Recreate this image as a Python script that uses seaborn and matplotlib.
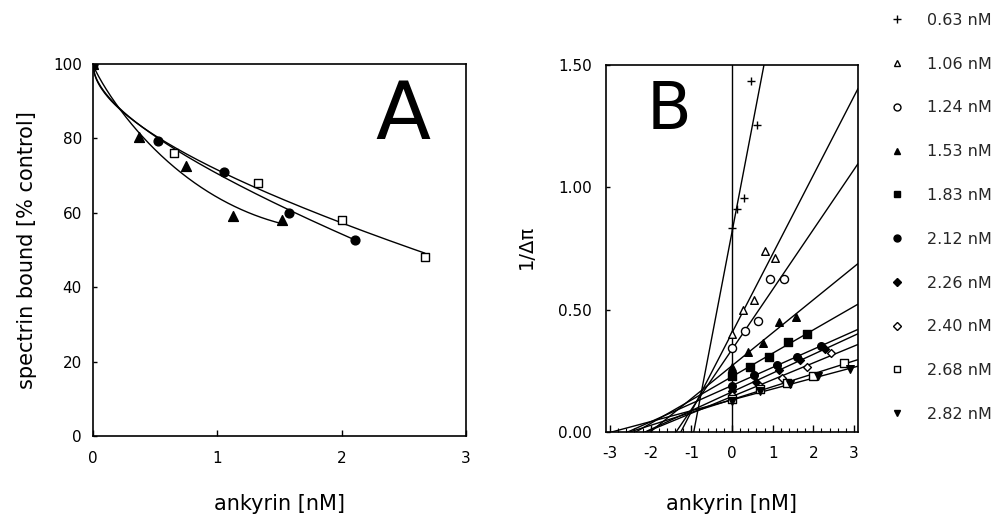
import numpy as np
import pandas as pd
import matplotlib
matplotlib.use("Agg")
import matplotlib.pyplot as plt
import seaborn as sns
from matplotlib.lines import Line2D
from matplotlib.ticker import MultipleLocator

sns.set_theme(style="ticks")
plt.rcParams["font.family"] = ["DejaVu Sans"]
plt.rcParams["axes.unicode_minus"] = False

# ---------------- Panel A data ----------------
a_tri_x = [0, 0.37, 0.745, 1.13, 1.52]
a_tri_y = [100, 80.5, 72.6, 59.1, 58.0]
a_cir_x = [0, 0.52, 1.05, 1.58, 2.11]
a_cir_y = [100, 79.3, 71.0, 60.0, 52.7]
a_sq_x = [0, 0.65, 1.33, 2.0, 2.67]
a_sq_y = [100, 76.0, 68.1, 58.0, 48.2]
a_xticks = [0, 1, 2, 3]
a_yticks = [0, 20, 40, 60, 80, 100]

# ---------------- Panel B data ----------------
b_labels = ["0.63 nM", "1.06 nM", "1.24 nM", "1.53 nM", "1.83 nM",
            "2.12 nM", "2.26 nM", "2.40 nM", "2.68 nM", "2.82 nM"]
b_x_063 = [0, 0.12, 0.30, 0.46, 0.62]
b_y_063 = [0.834, 0.91, 0.955, 1.434, 1.256]
b_x_106 = [0, 0.27, 0.53, 0.81, 1.07]
b_y_106 = [0.40, 0.50, 0.54, 0.74, 0.71]
b_x_124 = [0, 0.33, 0.63, 0.93, 1.27]
b_y_124 = [0.344, 0.414, 0.452, 0.625, 0.625]
b_x_153 = [0, 0.385, 0.76, 1.15, 1.57]
b_y_153 = [0.266, 0.327, 0.364, 0.45, 0.468]
b_x_183 = [0, 0.45, 0.91, 1.39, 1.85]
b_y_183 = [0.229, 0.267, 0.307, 0.368, 0.40]
b_x_212 = [0, 0.55, 1.10, 1.61, 2.20]
b_y_212 = [0.188, 0.233, 0.273, 0.307, 0.353]
b_x_226 = [0, 0.60, 1.15, 1.67, 2.28]
b_y_226 = [0.167, 0.205, 0.252, 0.295, 0.338]
b_x_240 = [0, 0.68, 1.23, 1.85, 2.44]
b_y_240 = [0.153, 0.188, 0.222, 0.266, 0.322]
b_x_268 = [0, 0.70, 1.35, 2.0, 2.75]
b_y_268 = [0.133, 0.174, 0.201, 0.229, 0.284]
b_x_282 = [0, 0.68, 1.42, 2.12, 2.90]
b_y_282 = [0.126, 0.167, 0.195, 0.229, 0.256]
b_xticks = [-3, -2, -1, 0, 1, 2, 3]
b_yticks = [0.0, 0.5, 1.0, 1.5]

b_series = list(zip(
    b_labels,
    [b_x_063, b_x_106, b_x_124, b_x_153, b_x_183, b_x_212, b_x_226, b_x_240, b_x_268, b_x_282],
    [b_y_063, b_y_106, b_y_124, b_y_153, b_y_183, b_y_212, b_y_226, b_y_240, b_y_268, b_y_282],
))
# marker, filled
b_styles = [("+", True), ("^", False), ("o", False), ("^", True), ("s", True),
            ("o", True), ("D", True), ("D", False), ("s", False), ("v", True)]
b_sizes = [40, 30, 34, 30, 28, 30, 16, 16, 26, 30]

fig = plt.figure(figsize=(10, 5.14), dpi=100)
fig.patch.set_facecolor("white")

axA = fig.add_axes([0.093, 1 - 436 / 514, 0.373, 372 / 514])
axB = fig.add_axes([0.606, 1 - 432 / 514, 0.252, 367 / 514])

line_kw = dict(color="black", lw=1.0)

# ---------------- Panel A ----------------
axA.set_xlim(0, 3)
axA.set_ylim(0, 100)
for xs, ys, m, filled, s, deg in [(a_sq_x, a_sq_y, "s", False, 40, 2),
                                  (a_cir_x, a_cir_y, "o", True, 40, 2),
                                  (a_tri_x, a_tri_y, "^", True, 50, 3)]:
    xs_a = np.asarray(xs, float)
    w = np.where(xs_a == 0, 10.0, 1.0)
    xf = np.linspace(xs_a.min(), xs_a.max(), 200)
    # least-squares polynomial fit in sqrt(x), anchored at the control point
    coef = np.polyfit(np.sqrt(xs_a), ys, deg, w=w)
    yf = np.polyval(coef, np.sqrt(xf))
    fit = pd.DataFrame({"x": xf, "y": yf})
    sns.lineplot(data=fit, x="x", y="y", color="black", lw=1.0, ax=axA, legend=False)
    sns.scatterplot(x=xs, y=ys, marker=m, s=s,
                    color="black" if filled else "white",
                    edgecolor="black", linewidth=1.0, zorder=5, ax=axA, legend=False)
axA.set_xlim(0, 3)
axA.set_ylim(0, 100)
axA.set_xticks(a_xticks)
axA.set_yticks(a_yticks)
axA.tick_params(axis="x", direction="in", length=4, width=1, labelsize=11, pad=11, colors="black")
axA.tick_params(axis="y", direction="in", length=3, width=1, labelsize=11, pad=8, colors="black")
axA.set_xlabel("ankyrin [nM]", fontsize=15, color="black")
axA.set_ylabel("spectrin bound [% control]", fontsize=15, color="black")
axA.xaxis.set_label_coords(0.5, (436 - 504) / 372)
axA.xaxis.label.set_va("center")
axA.yaxis.set_label_coords((27 - 93) / 373, 0.5)
axA.yaxis.label.set_va("center")
axA.text((403 - 93) / 373, (436 - 117) / 372, "A", transform=axA.transAxes,
         fontsize=58, ha="center", va="center", color="black")

# ---------------- Panel B ----------------
axB.set_xlim(-3.1, 3.1)
axB.set_ylim(0, 1.5)
axB.axvline(0, color="black", lw=1.0)
handles = []
for (lab, xs, ys), (m, filled), s in zip(b_series, b_styles, b_sizes):
    axB.set_xlim(-3.1, 3.1)
    sns.regplot(x=np.array(xs), y=np.array(ys), ci=None, scatter=False,
                truncate=False, line_kws=line_kw, ax=axB)
    if m == "+":
        sns.scatterplot(x=xs, y=ys, marker=m, s=s, color="black", linewidth=1.0,
                        zorder=5, ax=axB, legend=False)
        handles.append(Line2D([], [], ls="none", marker=m, color="black",
                              markersize=6, markeredgewidth=1.0))
    else:
        sns.scatterplot(x=xs, y=ys, marker=m, s=s,
                        color="black" if filled else "white",
                        edgecolor="black", linewidth=1.0, zorder=5, ax=axB, legend=False)
        handles.append(Line2D([], [], ls="none", marker=m,
                              markerfacecolor="black" if filled else "white",
                              markeredgecolor="black", markersize=5 if m != "D" else 4,
                              markeredgewidth=1.0))
axB.set_xlim(-3.1, 3.1)
axB.set_ylim(0, 1.5)
axB.set_xticks(b_xticks)
axB.set_yticks(b_yticks)
axB.set_yticklabels([f"{v:.2f}" for v in b_yticks])
axB.xaxis.set_minor_locator(MultipleLocator(0.2))
axB.tick_params(axis="x", which="major", direction="in", length=5, width=1,
                labelsize=11, pad=10, colors="black")
axB.tick_params(axis="x", which="minor", direction="in", length=3, width=0.8, colors="black")
axB.tick_params(axis="y", direction="in", length=3, width=1, labelsize=11, pad=10, colors="black")
axB.set_xlabel("ankyrin [nM]", fontsize=15, color="black")
axB.set_ylabel("1/\u0394\u03c0", fontsize=14, color="black")
axB.xaxis.set_label_coords(0.5, (432 - 504) / 367)
axB.xaxis.label.set_va("center")
axB.yaxis.set_label_coords((526 - 606) / 252, (432 - 247) / 367)
axB.yaxis.label.set_va("center")
axB.text((669 - 606) / 252, (432 - 111) / 367, "B", transform=axB.transAxes,
         fontsize=47, ha="center", va="center", color="black")

for ax in (axA, axB):
    for sp in ax.spines.values():
        sp.set_visible(True)
        sp.set_color("black")
        sp.set_linewidth(1.2)
    ax.set_facecolor("white")

fig.legend(handles, b_labels, loc="upper left", bbox_to_anchor=(0.889, 1 - 13 / 514),
           frameon=False, fontsize=11.5, handlelength=1.0, handletextpad=1.4,
           labelspacing=1.8, borderaxespad=0, borderpad=0)

fig.savefig("out.png", dpi=100, facecolor="white")
